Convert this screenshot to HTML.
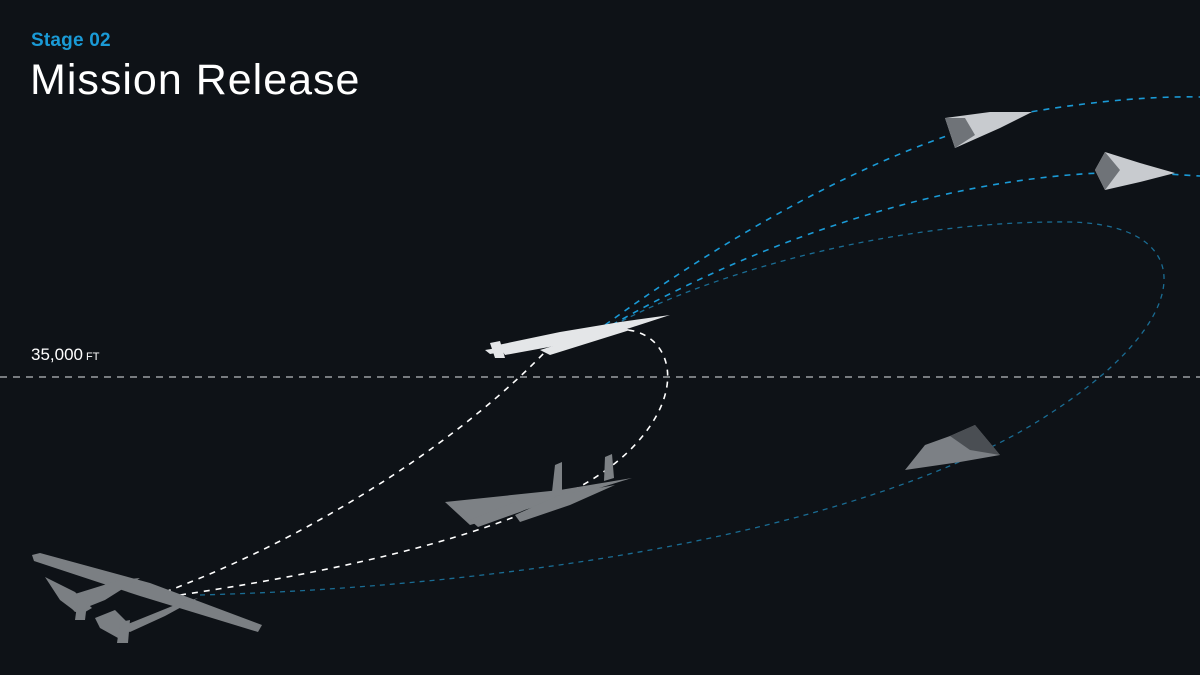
<!DOCTYPE html>
<html><head><meta charset="utf-8"><style>
html,body{margin:0;padding:0;background:#0e1217;}
body{width:1200px;height:675px;position:relative;overflow:hidden;font-family:"Liberation Sans",sans-serif;}
.stage{position:absolute;left:31px;top:30px;color:#1a9ad6;font-size:19px;font-weight:bold;letter-spacing:0.2px}
.title{position:absolute;left:30px;top:56px;color:#fff;font-size:43px;letter-spacing:1px}
.alt{position:absolute;left:31px;top:345px;color:#fff;font-size:17px}
.alt small{font-size:11px;margin-left:3px}
svg{position:absolute;left:0;top:0}
</style></head><body>
<div class="stage">Stage 02</div>
<div class="title">Mission Release</div>
<div class="alt">35,000<small>FT</small></div>
<svg width="1200" height="675" viewBox="0 0 1200 675">
<line x1="0" y1="377" x2="1200" y2="377" stroke="#b9bcc0" stroke-width="1.3" stroke-dasharray="7,6"/>
<path d="M200,595 C560,585 880,520 1040,420 C1200,320 1200,225 1070,222 C900,220 720,270 620,322" fill="none" stroke="#1a6c93" stroke-width="1.3" stroke-dasharray="5,5"/>
<path d="M605,325 C750,220 900,140 1030,112 C1100,100 1160,96 1200,97" fill="none" stroke="#1a9ad6" stroke-width="1.6" stroke-dasharray="6,6"/>
<path d="M612,325 C760,240 940,180 1100,173 C1150,172 1180,175 1200,176" fill="none" stroke="#1a9ad6" stroke-width="1.6" stroke-dasharray="6,6"/>
<path d="M165,592 C330,530 470,430 545,352" fill="none" stroke="#fff" stroke-width="1.6" stroke-dasharray="6,6"/>
<path d="M180,595 C380,565 560,520 630,450 C690,390 670,335 628,330" fill="none" stroke="#fff" stroke-width="1.6" stroke-dasharray="6,6"/>
<g fill="#7b7f83">
<polygon points="32,555 40,553 150,583 262,625 258,632 140,596 34,561"/>
<polygon points="62,598 120,580 140,578 105,600 75,612"/>
<polygon points="118,628 175,605 198,598 165,616 130,632"/>
<polygon points="45,577 75,592 92,608 80,615 60,600"/>
<polygon points="95,618 115,610 130,625 118,638 100,628"/>
<polygon points="78,598 88,595 85,620 75,620"/>
<polygon points="120,622 130,620 128,643 117,643"/>
</g>
<g fill="#7d8185">
<polygon points="445,502 560,490 632,478 560,500 470,525"/>
<polygon points="470,520 520,500 560,495 520,512 478,527"/>
<polygon points="515,515 560,495 615,485 570,505 520,522"/>
<polygon points="555,465 562,462 562,490 552,492"/>
<polygon points="605,457 612,454 614,478 604,481"/>
</g>
<g fill="#e4e6e8">
<polygon points="498,345 560,332 620,322 670,315 630,328 560,345 505,355"/>
<polygon points="490,343 500,341 505,358 495,358"/>
<polygon points="540,350 620,325 630,330 550,355"/>
<polygon points="485,350 545,340 545,345 490,354"/>
</g>
<polygon points="945,118 990,112 1032,112 1000,128 955,148" fill="#c8cbcf"/>
<polygon points="945,118 965,118 975,135 955,148" fill="#6f7378"/>
<polygon points="1095,170 1105,152 1140,163 1175,173 1140,182 1105,190" fill="#c8cbcf"/>
<polygon points="1095,170 1105,152 1120,170 1105,190" fill="#6f7378"/>
<polygon points="905,470 925,445 950,436 975,425 1000,455 960,462" fill="#7c8085"/>
<polygon points="950,436 975,425 1000,455 970,450" fill="#4a4e53"/>
</svg>
</body></html>
